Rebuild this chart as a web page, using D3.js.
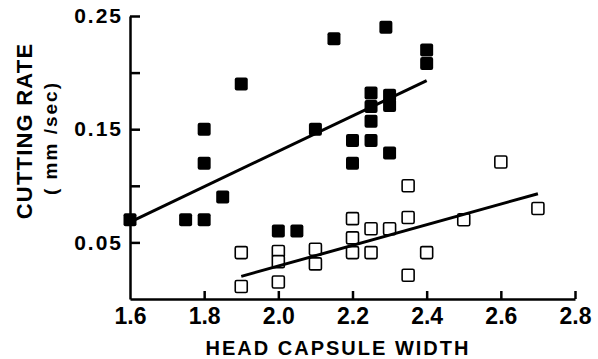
<!DOCTYPE html>
<html>
<head>
<meta charset="utf-8">
<script src="https://cdn.jsdelivr.net/npm/d3@7"></script>
<style>
	body { margin: 0; background: #fff; }
	svg text { font-family: "Liberation Sans", Arial, sans-serif; font-weight: bold; fill: #000; }
</style>
</head>
<body>
<div id="chart"></div>
<script>
// filled squares
const filledX = [1.6, 1.75, 1.8, 1.85, 1.8, 1.8, 1.9, 2.0, 2.05, 2.1, 2.15, 2.2, 2.2, 2.25, 2.25, 2.25, 2.25, 2.3, 2.3, 2.3, 2.29, 2.4, 2.4];
const filledY = [0.07, 0.07, 0.07, 0.09, 0.12, 0.15, 0.19, 0.06, 0.06, 0.15, 0.23, 0.14, 0.12, 0.182, 0.17, 0.157, 0.14, 0.18, 0.171, 0.129, 0.24, 0.22, 0.208];

// open squares
const openX = [1.9, 1.9, 2.0, 2.0, 2.0, 2.1, 2.1, 2.2, 2.2, 2.2, 2.25, 2.25, 2.3, 2.35, 2.35, 2.35, 2.4, 2.5, 2.6, 2.7];
const openY = [0.041, 0.011, 0.042, 0.033, 0.015, 0.044, 0.031, 0.071, 0.054, 0.041, 0.062, 0.041, 0.062, 0.10, 0.072, 0.021, 0.041, 0.070, 0.121, 0.080];

// fitted lines (end points)
const filledFitX = [1.6, 2.4];
const filledFitY = [0.068, 0.193];
const openFitX = [1.9, 2.7];
const openFitY = [0.02, 0.093];

const xTicks = [1.8, 2.0, 2.2, 2.4, 2.6, 2.8];
const xTickLabels = ["1.6", "1.8", "2.0", "2.2", "2.4", "2.6", "2.8"];
const yTicks = [0.05, 0.10, 0.15, 0.20, 0.25];
const yTickLabels = { 0.05: "0.05", 0.15: "0.15", 0.25: "0.25" };

width = 598;
height = 359;

x = d3.scaleLinear().domain([1.6, 2.8]).range([130, 575]);
y = d3.scaleLinear().domain([0, 0.25]).range([299, 16]);

const svg = d3.select("#chart").append("svg")
	.attr("width", width)
	.attr("height", height);

// x axis
const gx = svg.append("g")
	.attr("transform", `translate(0, ${y(0)})`)
	.call(d3.axisBottom(x).tickValues([1.6].concat(xTicks)).tickSizeInner(-8).tickSizeOuter(0).tickPadding(9)
		.tickFormat((d, i) => xTickLabels[i]));
gx.select(".domain").attr("stroke", "#000").attr("stroke-width", 2.5);
gx.selectAll(".tick line").attr("stroke", "#000").attr("stroke-width", 2.5)
	.filter((d) => d === 1.6).remove();
gx.selectAll(".tick text").attr("font-size", 23).attr("font-family", null);

// y axis
const gy = svg.append("g")
	.attr("transform", `translate(${x(1.6)}, 0)`)
	.call(d3.axisLeft(y).tickValues(yTicks).tickSizeInner(-10).tickSizeOuter(0).tickPadding(7)
		.tickFormat((d) => yTickLabels[d] || ""));
gy.select(".domain").attr("stroke", "#000").attr("stroke-width", 2.5);
gy.selectAll(".tick line").attr("stroke", "#000").attr("stroke-width", 2.5);
gy.selectAll(".tick text").attr("font-size", 21).attr("letter-spacing", 2).attr("font-family", null);

// axis titles
svg.append("text")
	.attr("x", 338)
	.attr("y", 355)
	.attr("text-anchor", "middle")
	.attr("font-size", 20)
	.attr("letter-spacing", 2)
	.text("HEAD CAPSULE WIDTH");

svg.append("text")
	.attr("transform", "translate(32, 131) rotate(-90)")
	.attr("text-anchor", "middle")
	.attr("font-size", 22)
	.attr("letter-spacing", 1.2)
	.text("CUTTING RATE");

svg.append("text")
	.attr("transform", "translate(57, 138) rotate(-90)")
	.attr("text-anchor", "middle")
	.attr("font-size", 19)
	.attr("letter-spacing", 2)
	.text("( mm /sec)");

// open squares
const openData = openX.map((d, i) => ({ x: d, y: openY[i] }));
svg.append("g").selectAll("rect")
	.data(openData)
	.join("rect")
	.attr("x", (d) => x(d.x) - 6)
	.attr("y", (d) => y(d.y) - 6)
	.attr("width", 12)
	.attr("height", 12)
	.attr("rx", 1.5)
	.attr("fill", "#fff")
	.attr("stroke", "#000")
	.attr("stroke-width", 1.6);

// filled squares
const filledData = filledX.map((d, i) => ({ x: d, y: filledY[i] }));
svg.append("g").selectAll("rect")
	.data(filledData)
	.join("rect")
	.attr("x", (d) => x(d.x) - 6.5)
	.attr("y", (d) => y(d.y) - 6.5)
	.attr("width", 13)
	.attr("height", 13)
	.attr("rx", 2)
	.attr("fill", "#000");

line = d3.line().x((d) => x(d[0])).y((d) => y(d[1]));

svg.append("path")
	.datum(filledFitX.map((d, i) => [d, filledFitY[i]]))
	.attr("fill", "none")
	.attr("stroke", "#000")
	.attr("stroke-width", 3)
	.attr("d", line);

svg.append("path")
	.datum(openFitX.map((d, i) => [d, openFitY[i]]))
	.attr("fill", "none")
	.attr("stroke", "#000")
	.attr("stroke-width", 3)
	.attr("d", line);
</script>
</body>
</html>
